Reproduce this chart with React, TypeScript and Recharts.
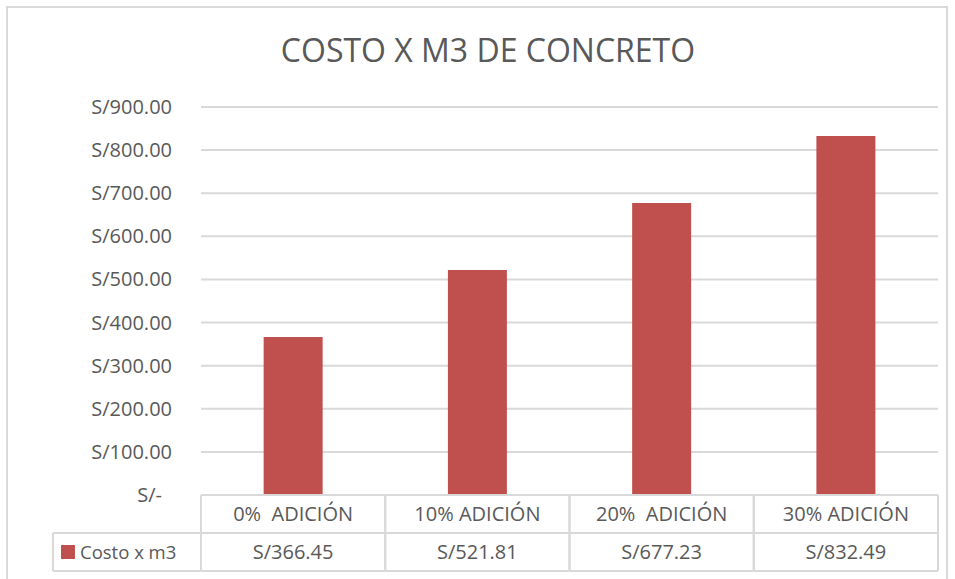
import React from 'react';
import { BarChart, Bar, XAxis, YAxis, CartesianGrid } from 'recharts';

const categories = ['0%  ADICIÓN', '10% ADICIÓN', '20%  ADICIÓN', '30% ADICIÓN'];
const costValues = [366.45, 521.81, 677.23, 832.49];
const costLabels = ['S/366.45', 'S/521.81', 'S/677.23', 'S/832.49'];
const yTicks = [0, 100, 200, 300, 400, 500, 600, 700, 800, 900];
const seriesName = 'Costo x m3';
const title = 'COSTO X M3 DE CONCRETO';

const data = categories.map((c, i) => ({ name: c, value: costValues[i], label: costLabels[i] }));

const FONT = '"Open Sans", sans-serif';
const TEXT = '#595959';
const LINE = '#d9d9d9';
const RED = '#C0504D';
const ROW = 38;

const fmt = (v: number) => (v === 0 ? 'S/-' : `S/${v.toFixed(2)}`);

const YTick = (props: any) => {
  const { x, y, payload } = props;
  const zero = payload.value === 0;
  return (
    <text
      x={zero ? x - 31 : x - 21}
      y={y}
      dy={7}
      textAnchor="end"
      fontSize={20}
      fontFamily={FONT}
      fill={TEXT}
    >
      {fmt(payload.value)}
    </text>
  );
};

const TableTick = (props: any) => {
  const { x, y, payload, index } = props;
  const bw = payload.offset ? payload.offset * 2 : 184.25;
  const left = x - bw / 2;
  const right = x + bw / 2;
  const row = data[index];
  return (
    <g>
      <line x1={left} y1={y} x2={left} y2={y + ROW * 2} stroke={LINE} strokeWidth={2} />
      <line x1={right} y1={y} x2={right} y2={y + ROW * 2} stroke={LINE} strokeWidth={2} />
      <line x1={left} y1={y + ROW} x2={right} y2={y + ROW} stroke={LINE} strokeWidth={2} />
      <line x1={left} y1={y + ROW * 2} x2={right} y2={y + ROW * 2} stroke={LINE} strokeWidth={2} />
      <text
        x={x}
        y={y + ROW / 2}
        dy={7}
        textAnchor="middle"
        fontSize={20}
        fontFamily={FONT}
        fill={TEXT}
        style={{ whiteSpace: 'pre' }}
      >
        {payload.value}
      </text>
      <text
        x={x}
        y={y + ROW * 1.5}
        dy={7}
        textAnchor="middle"
        fontSize={20}
        fontFamily={FONT}
        fill={TEXT}
      >
        {row ? row.label : ''}
      </text>
      {index === 0 && (
        <g>
          <line x1={left - 148} y1={y + ROW} x2={left} y2={y + ROW} stroke={LINE} strokeWidth={2} />
          <line x1={left - 148} y1={y + ROW * 2} x2={left} y2={y + ROW * 2} stroke={LINE} strokeWidth={2} />
          <line x1={left - 148} y1={y + ROW} x2={left - 148} y2={y + ROW * 2} stroke={LINE} strokeWidth={2} />
          <rect x={left - 140} y={y + ROW + 12} width={14} height={14} fill={RED} />
          <text
            x={left - 121}
            y={y + ROW * 1.5}
            dy={7}
            textAnchor="start"
            fontSize={18.5}
            fontFamily={FONT}
            fill={TEXT}
          >
            {seriesName}
          </text>
        </g>
      )}
    </g>
  );
};

export default function App() {
  return (
    <div
      style={{
        position: 'absolute',
        left: 6,
        top: 6,
        width: 942,
        height: 600,
        border: '2px solid #d9d9d9',
        background: '#fff',
        boxSizing: 'border-box',
      }}
    >
      <div
        style={{
          position: 'absolute',
          top: 20,
          left: 11,
          width: '100%',
          textAlign: 'center',
          fontFamily: FONT,
          fontSize: 32,
          color: TEXT,
        }}
      >
        {title}
      </div>
      <div style={{ position: 'absolute', left: 0, top: 0 }}>
        <BarChart
          width={938}
          height={581}
          data={data}
          margin={{ top: 99, right: 8, left: 0, bottom: 0 }}
          barCategoryGap="34%"
        >
          <CartesianGrid vertical={false} stroke={LINE} strokeWidth={2} />
          <YAxis
            domain={[0, 900]}
            ticks={yTicks}
            width={193}
            axisLine={false}
            tickLine={false}
            tick={<YTick />}
            interval={0}
          />
          <XAxis
            dataKey="name"
            height={94}
            axisLine={{ stroke: LINE, strokeWidth: 2 }}
            tickLine={false}
            tickSize={0}
            tickMargin={0}
            interval={0}
            tick={<TableTick />}
          />
          <Bar dataKey="value" fill={RED} isAnimationActive={false} />
        </BarChart>
      </div>
    </div>
  );
}
